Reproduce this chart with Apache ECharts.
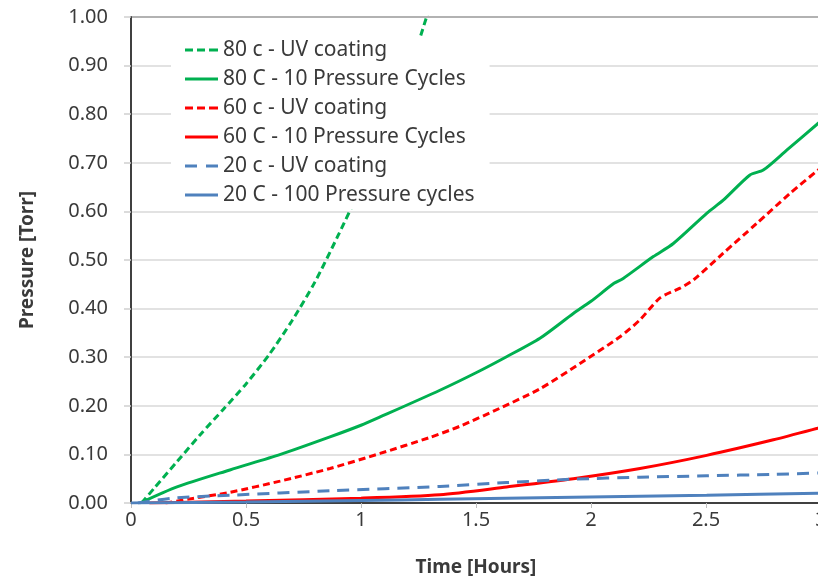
<!DOCTYPE html>
<html>
<head>
<meta charset="utf-8">
<script src="https://cdn.jsdelivr.net/npm/echarts@6/dist/echarts.min.js"></script>
<style>
html,body{margin:0;padding:0;background:#fff;}
#chart{width:818px;height:577px;}
</style>
</head>
<body>
<div id="chart"></div>
<script>
// Series names
const seriesNames = [
  '80 c - UV coating',
  '80 C - 10 Pressure Cycles',
  '60 c - UV coating',
  '60 C - 10 Pressure Cycles',
  '20 c - UV coating',
  '20 C - 100 Pressure cycles'
];
// [time (hours), pressure (Torr)]
const green80UV = [[0.046,0],[0.1,0.03],[0.2,0.085],[0.3,0.14],[0.4,0.192],[0.5,0.245],[0.6,0.305],[0.7,0.375],[0.8,0.455],[0.9,0.55],[1.0,0.65],[1.1,0.755],[1.2,0.875],[1.285,1.0],[1.35,1.1]];
const green80Cyc = [[0.04,0],[0.2,0.033],[0.43,0.068],[0.65,0.1],[0.865,0.136],[1.0,0.16],[1.083,0.177],[1.343,0.232],[1.5,0.268],[1.633,0.301],[1.778,0.339],[1.923,0.39],[2.0,0.415],[2.1,0.452],[2.14,0.462],[2.271,0.507],[2.358,0.534],[2.503,0.596],[2.575,0.623],[2.691,0.675],[2.749,0.685],[2.851,0.726],[2.987,0.781],[3.0,0.786]];
const red60UV = [[0.15,0],[0.25,0.008],[0.43,0.022],[0.648,0.045],[0.865,0.071],[1.083,0.102],[1.3,0.135],[1.43,0.158],[1.604,0.195],[1.778,0.235],[1.952,0.287],[2.126,0.342],[2.213,0.377],[2.3,0.422],[2.387,0.442],[2.445,0.459],[2.575,0.514],[2.72,0.575],[2.865,0.637],[2.987,0.685],[3.0,0.69]];
const red60Cyc = [[0.08,0],[0.5,0.004],[1.0,0.01],[1.343,0.017],[1.633,0.033],[1.923,0.05],[2.213,0.071],[2.503,0.098],[2.793,0.13],[2.987,0.154],[3.0,0.156]];
const blue20UV = [[0.03,0],[0.184,0.01],[0.43,0.016],[0.865,0.025],[1.343,0.034],[1.633,0.042],[1.923,0.049],[2.213,0.053],[2.503,0.056],[2.793,0.059],[3.0,0.062]];
const blue20Cyc = [[0,0],[0.5,0.002],[1.0,0.005],[1.343,0.0075],[1.923,0.012],[2.503,0.016],[3.0,0.02]];

const seriesData = [green80UV, green80Cyc, red60UV, red60Cyc, blue20UV, blue20Cyc];
const seriesColors = ['#00B050','#00B050','#FF0000','#FF0000','#4F81BD','#4F81BD'];
const seriesDash = [[7,4],'solid',[7,4],'solid',[12,8],'solid'];
// legend key shapes (33 x 3 boxes)
const ICON_SHORT_DASH = 'path://M0,0H8V3H0Z M12,0H20V3H12Z M24,0H33V3H24Z';
const ICON_SOLID = 'path://M0,0H33V3H0Z';
const ICON_LONG_DASH = 'path://M0,0H12V3H0Z M21,0H33V3H21Z';
const seriesIcons = [ICON_SHORT_DASH, ICON_SOLID, ICON_SHORT_DASH, ICON_SOLID, ICON_LONG_DASH, ICON_SOLID];

const FONT = 'Noto Sans';
const TXT = '#3a3a3a';

const chart = echarts.init(document.getElementById('chart'), null, {renderer:'canvas'});
chart.setOption({
  animation:false,
  backgroundColor:'#fff',
  grid:{left:131, right:-3, top:17, bottom:74, show:true, borderColor:'#404040', borderWidth:2, containLabel:false, outerBoundsMode:'none'},
  legend:{
    orient:'vertical', left:171, top:36,
    padding:[3,15,3,14],
    backgroundColor:'#fff',
    itemWidth:33, itemHeight:3, itemGap:7,
    data:seriesNames.map((n,i)=>({name:n, icon:seriesIcons[i], itemStyle:{color:seriesColors[i], borderWidth:0}})),
    textStyle:{fontFamily:FONT, fontSize:21, color:TXT, lineHeight:22}
  },
  xAxis:{
    type:'value', min:0, max:3, interval:0.5,
    name:'Time [Hours]', nameLocation:'middle', nameGap:55,
    nameTextStyle:{fontFamily:FONT, fontSize:19, fontWeight:'bold', color:TXT},
    axisLine:{show:true, onZero:false, lineStyle:{color:'#404040', width:2}},
    axisTick:{show:true, length:5, lineStyle:{color:'#bfbfbf'}},
    axisLabel:{fontFamily:FONT, fontSize:20, color:TXT, margin:7, formatter:v=>String(v), showMaxLabel:true},
    splitLine:{show:false}
  },
  yAxis:{
    type:'value', min:0, max:1, interval:0.1,
    name:'Pressure [Torr]', nameLocation:'middle', nameGap:94, nameRotate:90,
    nameTextStyle:{fontFamily:FONT, fontSize:19, fontWeight:'bold', color:TXT},
    axisLine:{show:true, lineStyle:{color:'#404040', width:2}},
    axisTick:{show:true, length:7, lineStyle:{color:'#d0d0d0', width:1.5}},
    axisLabel:{fontFamily:FONT, fontSize:20, color:TXT, margin:23, formatter:v=>v.toFixed(2)},
    splitLine:{show:true, lineStyle:{color:'#d9d9d9', width:1.5}}
  },
  series: seriesNames.map((n,i)=>({
    name:n, type:'line', data:seriesData[i], smooth:0.25,
    symbol:'none', showSymbol:false, clip:true,
    lineStyle:{color:seriesColors[i], width:3, type:seriesDash[i]},
    itemStyle:{color:seriesColors[i]},
    z:2
  }))
});
</script>
</body>
</html>
